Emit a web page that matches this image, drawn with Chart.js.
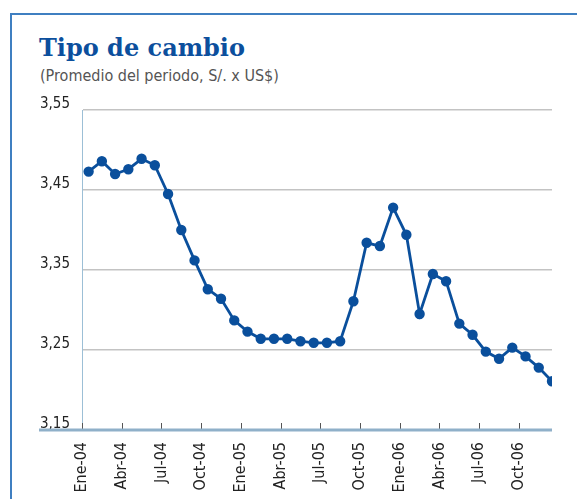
<!DOCTYPE html>
<html>
<head>
<meta charset="utf-8">
<script src="https://cdn.jsdelivr.net/npm/chart.js@4.4.1/dist/chart.umd.min.js"></script>
<style>
  html, body { margin: 0; padding: 0; background: #fff; }
  #wrap { position: relative; width: 577px; height: 499px; overflow: hidden; }
  #frame { position: absolute; left: 10px; top: 13px; right: 0; bottom: 0;
           border-top: 2px solid #3f7fc1; border-left: 2px solid #3f7fc1; }
  #title { position: absolute; left: 39px; top: 33px; margin: 0; line-height: 1;
           font: bold 24px "DejaVu Serif", serif; color: #0c4f9d; }
  #subtitle { position: absolute; left: 40px; top: 66px; margin: 0;
              font: 16px "Liberation Sans Narrow", "DejaVu Sans Condensed", sans-serif; color: #555; }
  canvas { position: absolute; left: 0; top: 0; }
</style>
</head>
<body>
<div id="wrap">
  <div id="frame"></div>
  <h1 id="title">Tipo de cambio</h1>
  <p id="subtitle">(Promedio del periodo, S/. x US$)</p>
  <canvas id="tcChart" width="577" height="499"></canvas>
</div>
<script>
// meses Ene-04 .. Dic-06
var months = [
  'Ene-04','Feb-04','Mar-04','Abr-04','May-04','Jun-04','Jul-04','Ago-04','Set-04','Oct-04','Nov-04','Dic-04',
  'Ene-05','Feb-05','Mar-05','Abr-05','May-05','Jun-05','Jul-05','Ago-05','Set-05','Oct-05','Nov-05','Dic-05',
  'Ene-06','Feb-06','Mar-06','Abr-06','May-06','Jun-06','Jul-06','Ago-06','Set-06','Oct-06','Nov-06','Dic-06'
];
var tipoCambio = [
  3.473, 3.486, 3.470, 3.476, 3.489, 3.481, 3.445, 3.400, 3.362, 3.326, 3.314, 3.287,
  3.273, 3.264, 3.264, 3.264, 3.261, 3.259, 3.259, 3.261, 3.311, 3.384, 3.380, 3.428,
  3.394, 3.295, 3.345, 3.336, 3.283, 3.269, 3.248, 3.239, 3.253, 3.242, 3.228, 3.211
];
var tickMonths = ['Ene-04','Abr-04','Jul-04','Oct-04','Ene-05','Abr-05','Jul-05','Oct-05','Ene-06','Abr-06','Jul-06','Oct-06'];
var yTicks = [3.15, 3.25, 3.35, 3.45, 3.55];

var narrow = '"Liberation Sans Narrow", "DejaVu Sans Condensed", sans-serif';

// each month sits in the middle of its slot
var points = tipoCambio.map(function(v, i) { return { x: i + 0.5, y: v }; });

// inner tick marks + base line running out under the y labels
var axisExtras = {
  id: 'axisExtras',
  afterDraw: function(chart) {
    var ctx = chart.ctx, xs = chart.scales.x, area = chart.chartArea;
    ctx.save();
    ctx.strokeStyle = '#555';
    ctx.lineWidth = 1;
    tickMonths.forEach(function(m) {
      var px = Math.round(xs.getPixelForValue(months.indexOf(m))) + 0.5;
      ctx.beginPath();
      ctx.moveTo(px, area.bottom - 1);
      ctx.lineTo(px, area.bottom - 7);
      ctx.stroke();
    });
    ctx.strokeStyle = '#8fb0c9';
    ctx.lineWidth = 3;
    ctx.beginPath();
    ctx.moveTo(39, area.bottom);
    ctx.lineTo(area.right, area.bottom);
    ctx.stroke();
    ctx.restore();
  }
};

var ctx = document.getElementById('tcChart').getContext('2d');
new Chart(ctx, {
  type: 'line',
  data: {
    datasets: [{
      data: points,
      borderColor: '#0a4f9c',
      backgroundColor: '#0a4f9c',
      borderWidth: 2.8,
      pointRadius: 3.8,
      pointHoverRadius: 3.8,
      tension: 0
    }]
  },
  options: {
    responsive: false,
    animation: false,
    layout: { padding: { top: 110, right: 25, left: 0, bottom: 0 } },
    plugins: { legend: { display: false }, tooltip: { enabled: false } },
    scales: {
      x: {
        type: 'linear',
        min: 0,
        max: 35.5,
        afterBuildTicks: function(scale) {
          scale.ticks = tickMonths.map(function(m) { return { value: months.indexOf(m) }; });
        },
        afterFit: function(scale) { scale.height = 69; },
        grid: { display: false, drawTicks: false },
        border: { display: false },
        ticks: {
          autoSkip: false,
          minRotation: 90,
          maxRotation: 90,
          padding: 12,
          color: '#222',
          font: { family: narrow, size: 16 },
          callback: function(v) { return months[v]; }
        }
      },
      y: {
        min: 3.15,
        max: 3.55,
        afterBuildTicks: function(scale) {
          scale.ticks = yTicks.map(function(v) { return { value: v }; });
        },
        afterFit: function(scale) { scale.width = 82; },
        grid: { color: '#c3c3c3', lineWidth: 1.5, drawTicks: false },
        border: { display: true, color: '#9cbfd6', width: 1 },
        ticks: {
          padding: 12,
          labelOffset: -6,
          color: '#222',
          font: { family: narrow, size: 15 },
          callback: function(v) { return v.toFixed(2).replace('.', ','); }
        }
      }
    }
  },
  plugins: [axisExtras]
});
</script>
</body>
</html>
